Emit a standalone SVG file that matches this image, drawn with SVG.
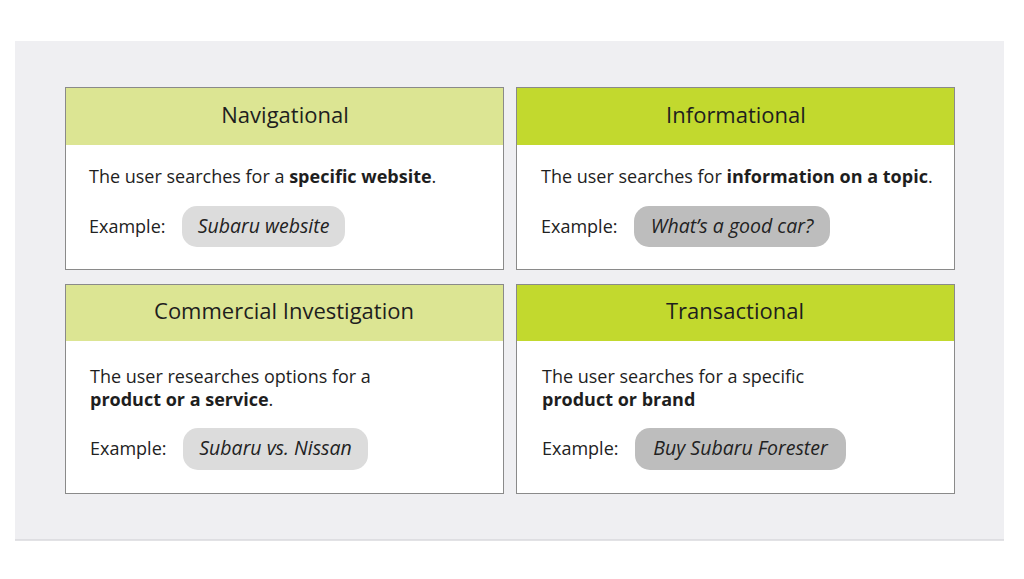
<svg xmlns="http://www.w3.org/2000/svg" width="1024" height="579" viewBox="0 0 1024 579">
<style>
.card{fill:#fff;stroke:#8a8a8a;stroke-width:1}
.hl{fill:#dce593}
.hd{fill:#c2d92e}
.title{font-family:"Open Sans",Lato,sans-serif;font-size:22px;fill:#1e1e1e;text-anchor:middle}
.body{font-family:"Open Sans",Lato,sans-serif;font-size:18px;fill:#1e1e1e}
.b{font-weight:bold}
.ex{font-family:"Open Sans",Lato,sans-serif;font-size:18px;fill:#222}
.pl{fill:#dcdcdc}
.pd{fill:#bdbdbd}
.pt{font-family:"Open Sans",Lato,sans-serif;font-size:19.5px;font-style:italic;fill:#222;text-anchor:middle}
</style>
<rect x="0" y="0" width="1024" height="579" fill="#fff"/>
<rect x="15" y="41" width="989" height="499" fill="#efeff2"/>
<line x1="15" y1="540" x2="1004" y2="540" stroke="#d8d8dc" stroke-width="1.5"/>
<g id="navigational">
<rect class="card" x="65.5" y="87.5" width="438" height="182"/>
<rect class="hl" x="66" y="88" width="437" height="57"/>
<text class="title" x="285" y="123">Navigational</text>
<text class="body" x="89" y="183">The user searches for a <tspan class="b">specific website</tspan>.</text>
<text class="ex" x="89" y="233">Example:</text>
<rect class="pl" x="182" y="206" width="163" height="41" rx="15"/>
<text class="pt" x="263.5" y="233">Subaru website</text>
</g>
<g id="informational">
<rect class="card" x="516.5" y="87.5" width="438" height="182"/>
<rect class="hd" x="517" y="88" width="437" height="57"/>
<text class="title" x="736" y="123">Informational</text>
<text class="body" x="541" y="183">The user searches for <tspan class="b">information on a topic</tspan>.</text>
<text class="ex" x="541" y="233">Example:</text>
<rect class="pd" x="634" y="206" width="196" height="41" rx="15"/>
<text class="pt" x="732" y="233">What’s a good car?</text>
</g>
<g id="commercial">
<rect class="card" x="65.5" y="284.5" width="438" height="209"/>
<rect class="hl" x="66" y="285" width="437" height="56"/>
<text class="title" x="284" y="319">Commercial Investigation</text>
<text class="body" x="90" y="383">The user researches options for a</text>
<text class="body b" x="90" y="406">product or a service<tspan font-weight="normal">.</tspan></text>
<text class="ex" x="90" y="455">Example:</text>
<rect class="pl" x="183" y="428" width="185" height="42" rx="15"/>
<text class="pt" x="275.5" y="455">Subaru vs. Nissan</text>
</g>
<g id="transactional">
<rect class="card" x="516.5" y="284.5" width="438" height="209"/>
<rect class="hd" x="517" y="285" width="437" height="56"/>
<text class="title" x="735" y="319">Transactional</text>
<text class="body" x="542" y="383">The user searches for a specific</text>
<text class="body b" x="542" y="406">product or brand</text>
<text class="ex" x="542" y="455">Example:</text>
<rect class="pd" x="635" y="428" width="211" height="42" rx="15"/>
<text class="pt" x="740.5" y="455">Buy Subaru Forester</text>
</g>
<g id="connectors"/>
</svg>
